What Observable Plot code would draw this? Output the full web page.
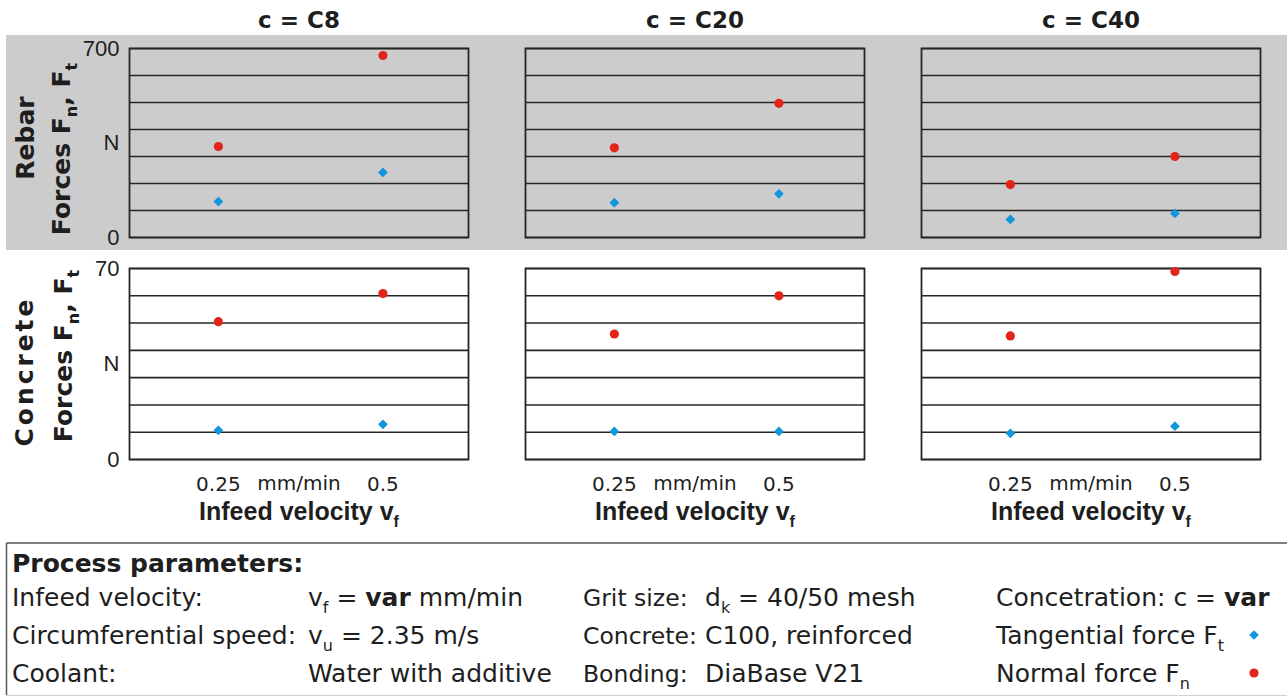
<!DOCTYPE html>
<html><head><meta charset="utf-8">
<script src="https://cdn.jsdelivr.net/npm/d3@7"></script>
<script src="https://cdn.jsdelivr.net/npm/@observablehq/plot@0.6"></script>
<style>
body{margin:0;background:#fff;}
#root{position:relative;width:1287px;height:697px;overflow:hidden;font-family:"DejaVu Sans";}
#graybg{position:absolute;left:6px;top:35px;width:1281px;height:215px;background:#cccccc;}
#top,#bottom,#legend{position:absolute;left:0;}
#top{top:0}
#bottom{top:250px}
#legend{top:542px}
svg text{white-space:pre;}
</style></head><body>
<div id="root"><div id="graybg"></div><div id="top"></div><div id="bottom"></div><div id="legend"></div></div>
<script>
// ---- data ----
const concentrations = ["C8", "C20", "C40"];
const velocities = [0.25, 0.5];               // mm/min
// [concentration][velocity]
const rebarNormal      = [[337, 674], [332, 497], [196, 300]];
const rebarTangential  = [[133, 241], [129, 162], [67, 89]];
const concreteNormal     = [[50.5, 60.8], [46, 60], [45.3, 68.9]];
const concreteTangential = [[10.7, 12.9], [10.3, 10.3], [9.6, 12.2]];
const rebarTicks    = [0, 100, 200, 300, 400, 500, 600, 700];
const concreteTicks = [0, 10, 20, 30, 40, 50, 60, 70];

const RED = "#e3241b", BLUE = "#1296db", INK = "#1e1e1e";

function rows(normal, tangential) {
  const out = [];
  concentrations.forEach((c, i) => velocities.forEach((v, j) => {
    out.push({c, v, force: "Ft", value: tangential[i][j]});
    out.push({c, v, force: "Fn", value: normal[i][j]});
  }));
  return out;
}

function rich(sel, str, subSize, subShift) {
  const parts = str.split(/(_\{[^}]*\}|\*[^*]*\*)/).filter(s => s);
  let shifted = false;
  for (const p of parts) {
    const t = sel.append("tspan");
    if (p.startsWith("_{")) {
      t.text(p.slice(2, -1)).attr("font-size", subSize).attr("dy", subShift);
      shifted = true;
    } else {
      if (shifted) { t.attr("dy", -subShift); shifted = false; }
      if (p.startsWith("*")) t.attr("font-weight", "bold").text(p.slice(1, -1));
      else t.text(p);
    }
  }
}

function panelRow({data, ticks, height, marginTop, marginBottom, top}) {
  const ymax = ticks[ticks.length - 1];
  const marks = [
    Plot.gridY(ticks, {stroke: "#262626", strokeOpacity: 1, strokeWidth: 1.6}),
    Plot.frame({stroke: "#262626", strokeWidth: 1.8}),
    Plot.axisY([0, ymax / 2, ymax], {
      tickSize: 0, tickPadding: 10, label: null, facetAnchor: "left",
      tickFormat: d => d === ymax / 2 ? "N" : String(d),
      fontSize: 22, fontFamily: "Liberation Sans", fill: INK
    }),
    Plot.dot(data.filter(d => d.force === "Ft"), {fx: "c", x: "v", y: "value", symbol: "diamond2", r: 4.4, fill: BLUE, stroke: "none"}),
    Plot.dot(data.filter(d => d.force === "Fn"), {fx: "c", x: "v", y: "value", symbol: "circle", r: 4.6, fill: RED, stroke: "none"})
  ];
  if (top) {
    marks.push(Plot.text(concentrations, {fx: d => d, text: d => `c = ${d}`, frameAnchor: "top", lineAnchor: "middle", dy: -28,
      fontSize: 23, fontWeight: "bold", fill: INK}));
  } else {
    marks.push(Plot.axisX(velocities, {tickSize: 0, tickPadding: 17, label: null, fontSize: 20, fill: INK,
      tickFormat: d => String(d)}));
    marks.push(Plot.text(concentrations, {fx: d => d, text: () => "mm/min", frameAnchor: "bottom", lineAnchor: "middle", dy: 24,
      fontSize: 20, fill: INK}));
    marks.push(Plot.text(concentrations, {fx: d => d, text: () => "Infeed velocity v", frameAnchor: "bottom", lineAnchor: "middle", dy: 52,
      fontSize: 25, fontWeight: "bold", fontFamily: "Liberation Sans", fill: INK}));
  }
  return Plot.plot({
    width: 1287, height, marginLeft: 128, marginRight: 26, marginTop, marginBottom,
    style: {background: "transparent", fontFamily: "DejaVu Sans", fontSize: "20px", color: INK, overflow: "visible"},
    fx: {domain: concentrations, paddingInner: 0.143, paddingOuter: 0, axis: null, label: null},
    x: {domain: [0.115, 0.63], axis: top ? null : undefined, label: null},
    y: {domain: [0, ymax], label: null},
    marks
  });
}

const topPlot = panelRow({data: rows(rebarNormal, rebarTangential), ticks: rebarTicks,
  height: 250, marginTop: 48, marginBottom: 13, top: true});
const botPlot = panelRow({data: rows(concreteNormal, concreteTangential), ticks: concreteTicks,
  height: 285, marginTop: 18, marginBottom: 76, top: false});
document.getElementById("top").appendChild(topPlot);
document.getElementById("bottom").appendChild(botPlot);

// subscript f on x labels
d3.select(botPlot).selectAll("text").filter(function() { return this.textContent === "Infeed velocity v"; })
  .each(function() {
    d3.select(this).append("tspan").attr("dy", 7).attr("font-size", 16).text("f");
  });

// rotated y labels
function yLabel(svg, x, y, str, len) {
  const t = d3.select(svg).append("text")
    .attr("transform", `translate(${x},${y}) rotate(-90)`)
    .attr("text-anchor", "middle").attr("font-family", "DejaVu Sans").attr("font-weight", "bold")
    .attr("font-size", 25).attr("fill", INK);
  if (len) t.attr("textLength", len).attr("lengthAdjust", "spacing");
  rich(t, str, 16, 7);
}
yLabel(topPlot, 34, 138, "Rebar");
yLabel(topPlot, 70, 149, "Forces F_{n}, F_{t}");
yLabel(botPlot, 33, 123, "Concrete", 147);
yLabel(botPlot, 72, 106, "Forces F_{n}, F_{t}");

// ---- legend / process parameters box ----
const colX = [12, 308, 583, 705, 996];
const colSize = [25, 25, 23.5, 25, 25];
const legendTitle = "Process parameters:";
const legendRows = [
  ["Infeed velocity:", "v_{f} = *var* mm/min", "Grit size:", "d_{k} = 40/50 mesh", "Concetration: c = *var*"],
  ["Circumferential speed:", "v_{u} = 2.35 m/s", "Concrete:", "C100, reinforced", "Tangential force F_{t}"],
  ["Coolant:", "Water with additive", "Bonding:", "DiaBase V21", "Normal force F_{n}"]
];
const lg = d3.select("#legend").append("svg").attr("width", 1287).attr("height", 155)
  .style("display", "block").attr("font-family", "DejaVu Sans").attr("fill", INK);
lg.append("line").attr("x1", 6.5).attr("x2", 1287).attr("y1", 1).attr("y2", 1).attr("stroke", "#555").attr("stroke-width", 1.5);
lg.append("line").attr("x1", 6.5).attr("x2", 6.5).attr("y1", 1).attr("y2", 153).attr("stroke", "#555").attr("stroke-width", 1.5);
lg.append("line").attr("x1", 6.5).attr("x2", 1287).attr("y1", 153.5).attr("y2", 153.5).attr("stroke", "#d0d0d0").attr("stroke-width", 1);
lg.append("text").attr("x", 12).attr("y", 30).attr("font-size", 25).attr("font-weight", "bold").text(legendTitle);
legendRows.forEach((r, i) => {
  r.forEach((s, j) => {
    const t = lg.append("text").attr("x", colX[j]).attr("y", 64 + 38 * i).attr("font-size", colSize[j]);
    rich(t, s, 16, 7);
  });
});
lg.append("path").attr("transform", "translate(1254,93)").attr("d", d3.symbol(d3.symbolDiamond2, 60)()).attr("fill", BLUE);
lg.append("circle").attr("cx", 1254).attr("cy", 131).attr("r", 4.6).attr("fill", RED);
</script>
</body></html>
